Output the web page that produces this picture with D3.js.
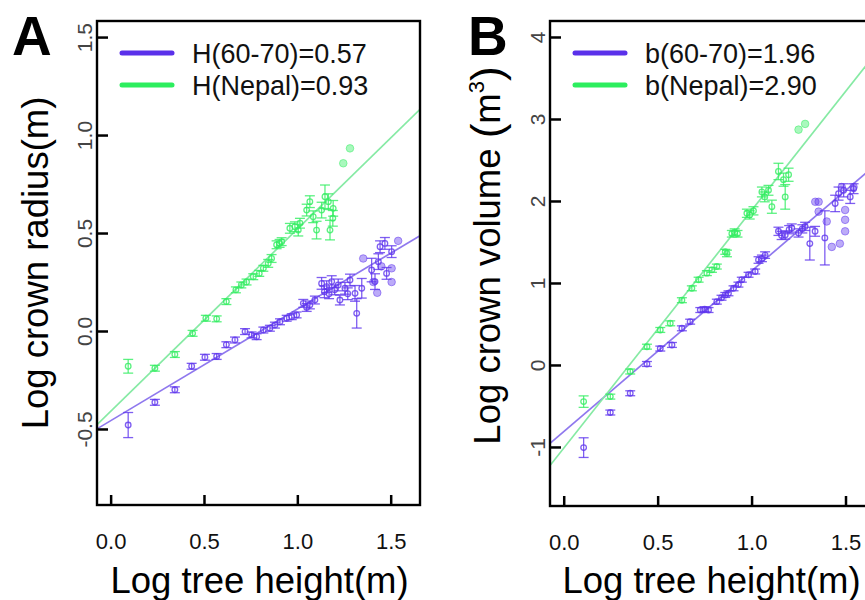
<!DOCTYPE html>
<html><head><meta charset="utf-8">
<script src="https://cdn.jsdelivr.net/npm/d3@7"></script>
<style>body{margin:0;background:#fff}svg{display:block}text{font-family:"Liberation Sans",Arial,sans-serif}</style>
</head><body><svg id="c" width="865" height="600"></svg>
<script>
// ---------- DATA ----------
const xTicks = [0, 0.5, 1.0, 1.5];
const xTickLabels = ["0.0", "0.5", "1.0", "1.5"];
const yTicksA = [-0.5, 0, 0.5, 1.0, 1.5];
const yTickLabelsA = ["-0.5", "0.0", "0.5", "1.0", "1.5"];
const yTicksB = [-1, 0, 1, 2, 3, 4];
const yTickLabelsB = ["-1", "0", "1", "2", "3", "4"];
const legendA = ["H(60-70)=0.57", "H(Nepal)=0.93"];
const legendB = ["b(60-70)=1.96", "b(Nepal)=2.90"];
const fitOldA = [-0.458, 0.57];   // intercept, slope
const fitNepalA = [-0.41, 0.93];
const fitOldB = [-0.813, 1.96];
const fitNepalB = [-1.015, 2.90];

// Panel A — Nepal (binned means, x, y, sd)
const nepalAX = [0.094,0.237,0.344,0.439,0.51,0.568,0.62,0.671,0.70,0.728,0.764,0.796,0.818,0.844,0.862,0.889,0.905,0.916,0.96,0.987,1.005,1.014,1.05,1.067,1.085,1.103,1.13,1.148,1.166,1.175,1.19,1.192];
const nepalAY = [-0.18,-0.19,-0.12,-0.012,0.065,0.062,0.15,0.21,0.235,0.25,0.277,0.294,0.32,0.345,0.37,0.44,0.447,0.456,0.524,0.532,0.515,0.55,0.617,0.66,0.583,0.515,0.617,0.685,0.66,0.515,0.575,0.626];
const nepalAE = [0.035,0.015,0.015,0.015,0.015,0.015,0.015,0.015,0.015,0.015,0.015,0.015,0.015,0.02,0.02,0.02,0.02,0.02,0.025,0.025,0.03,0.025,0.03,0.03,0.03,0.045,0.04,0.06,0.04,0.05,0.04,0.04];
const nepalASingleX = [1.246, 1.282];
const nepalASingleY = [0.856, 0.932];
// Panel A — 60-70
const oldAX = [0.094,0.237,0.344,0.434,0.505,0.568,0.62,0.666,0.72,0.755,0.782,0.818,0.853,0.88,0.907,0.943,0.97,0.996,1.032,1.05,1.067,1.094,1.13,1.145,1.157,1.17,1.184,1.2,1.219,1.228,1.255,1.27,1.282,1.309,1.318,1.345,1.398,1.416,1.434,1.443,1.469,1.478,1.505];
const oldAY = [-0.48,-0.364,-0.30,-0.18,-0.134,-0.13,-0.07,-0.046,-0.003,-0.02,-0.029,0.005,0.014,0.03,0.047,0.065,0.073,0.082,0.141,0.12,0.133,0.158,0.243,0.20,0.226,0.19,0.252,0.21,0.235,0.158,0.218,0.19,0.26,0.192,0.09,0.218,0.311,0.252,0.354,0.43,0.447,0.294,0.405];
const oldAE = [0.064,0.015,0.015,0.015,0.015,0.015,0.015,0.015,0.015,0.015,0.015,0.015,0.015,0.015,0.015,0.015,0.015,0.015,0.02,0.02,0.02,0.02,0.03,0.03,0.03,0.025,0.03,0.025,0.03,0.025,0.03,0.03,0.03,0.04,0.075,0.05,0.06,0.04,0.04,0.03,0.03,0.03,0.03];
const oldASingleX = [1.353, 1.407, 1.428, 1.505, 1.505, 1.54, 1.45];
const oldASingleY = [0.37, 0.25, 0.195, 0.25, 0.32, 0.46, 0.33];
// Panel B — Nepal
const nepalBX = [0.106,0.248,0.354,0.443,0.514,0.567,0.629,0.682,0.718,0.762,0.789,0.815,0.86,0.869,0.895,0.91,0.925,0.975,0.99,1.01,1.055,1.07,1.09,1.108,1.143,1.17,1.179,1.197];
const nepalBY = [-0.447,-0.386,-0.08,0.223,0.427,0.508,0.79,0.935,1.04,1.12,1.16,1.2,1.38,1.36,1.6,1.62,1.6,1.85,1.83,1.88,2.11,2.05,2.13,1.93,2.36,2.26,2.05,2.32];
const nepalBE = [0.07,0.03,0.03,0.03,0.03,0.03,0.03,0.03,0.03,0.03,0.03,0.03,0.03,0.04,0.04,0.04,0.04,0.05,0.05,0.05,0.06,0.06,0.06,0.08,0.1,0.08,0.15,0.08];
const nepalBSingleX = [1.25, 1.285];
const nepalBSingleY = [2.87, 2.94];
// Panel B — 60-70
const oldBX = [0.106,0.248,0.354,0.443,0.514,0.576,0.629,0.673,0.727,0.75,0.771,0.815,0.84,0.86,0.877,0.904,0.93,0.948,0.984,1.019,1.037,1.055,1.072,1.143,1.16,1.179,1.2,1.214,1.25,1.27,1.285,1.31,1.338,1.39,1.445,1.463,1.49,1.525,1.543];
const oldBY = [-1.008,-0.58,-0.345,0.012,0.2,0.244,0.447,0.528,0.67,0.68,0.67,0.772,0.82,0.854,0.874,0.935,0.98,1.04,1.1,1.14,1.28,1.3,1.34,1.63,1.58,1.585,1.65,1.67,1.61,1.66,1.69,1.48,1.63,1.55,1.97,2.09,2.13,2.05,2.15];
const oldBE = [0.12,0.03,0.03,0.03,0.03,0.03,0.03,0.03,0.03,0.03,0.03,0.03,0.03,0.03,0.03,0.03,0.03,0.03,0.03,0.03,0.04,0.04,0.04,0.05,0.05,0.05,0.05,0.05,0.05,0.05,0.05,0.2,0.06,0.33,0.1,0.08,0.08,0.08,0.06];
const oldBSingleX = [1.357, 1.357, 1.40, 1.498, 1.498, 1.498, 1.47, 1.427, 1.339, 1.48, 1.543];
const oldBSingleY = [1.99, 1.87, 1.75, 1.89, 1.77, 1.63, 1.48, 1.44, 1.99, 2.17, 2.17];

// ---------- STYLE ----------
const PURPLE = "#5a30ea", GREEN = "#2cee5e";
const PURPLE_PT = "#5f36ee", GREEN_PT = "#33ee62";
const PURPLE_FIT = "#8f78ee", GREEN_FIT = "#86eaa4";
const FONT = '"Liberation Sans",Arial,sans-serif';

const svg = d3.select("#c");

function drawPanel(o) {
  const g = svg.append("g");
  const x = d3.scaleLinear().domain([-0.073, 1.657]).range([o.left, o.right]);
  const y = d3.scaleLinear().domain(o.yDomain).range([o.bottom, o.top]);

  const clipId = "clip" + o.letter;
  svg.append("clipPath").attr("id", clipId).append("rect")
    .attr("x", o.left).attr("y", o.top).attr("width", o.right - o.left).attr("height", o.bottom - o.top);
  const plot = g.append("g").attr("clip-path", `url(#${clipId})`);

  // fit lines
  [[o.fitOld, PURPLE_FIT], [o.fitNepal, GREEN_FIT]].forEach(([f, col]) => {
    const xs = x.domain();
    plot.append("line")
      .attr("x1", x(xs[0])).attr("y1", y(f[0] + f[1] * xs[0]))
      .attr("x2", x(xs[1])).attr("y2", y(f[0] + f[1] * xs[1]))
      .attr("stroke", col).attr("stroke-width", 1.7);
  });

  function series(X, Y, E, SX, SY, col) {
    const d = X.map((v, i) => ({x: v, y: Y[i], e: E[i]}));
    const s = SX.map((v, i) => ({x: v, y: SY[i]}));
    plot.selectAll(null).data(s).enter().append("circle")
      .attr("cx", p => x(p.x)).attr("cy", p => y(p.y)).attr("r", 3.8)
      .attr("fill", col).attr("fill-opacity", 0.42).attr("stroke", col).attr("stroke-opacity", 0.5);
    const eg = plot.selectAll(null).data(d).enter().append("g")
      .attr("stroke", col).attr("stroke-opacity", 0.8).attr("fill", "none").attr("stroke-width", 1.3);
    eg.append("line").attr("x1", p => x(p.x)).attr("x2", p => x(p.x))
      .attr("y1", p => y(p.y - p.e)).attr("y2", p => y(p.y + p.e));
    eg.append("line").attr("x1", p => x(p.x) - 5).attr("x2", p => x(p.x) + 5)
      .attr("y1", p => y(p.y - p.e)).attr("y2", p => y(p.y - p.e));
    eg.append("line").attr("x1", p => x(p.x) - 5).attr("x2", p => x(p.x) + 5)
      .attr("y1", p => y(p.y + p.e)).attr("y2", p => y(p.y + p.e));
    eg.append("circle").attr("cx", p => x(p.x)).attr("cy", p => y(p.y)).attr("r", 2.8);
  }
  series(o.nepalX, o.nepalY, o.nepalE, o.nepalSX, o.nepalSY, GREEN_PT);
  series(o.oldX, o.oldY, o.oldE, o.oldSX, o.oldSY, PURPLE_PT);

  // axes
  const ax = g.append("g").attr("transform", `translate(0,${o.bottom})`)
    .call(d3.axisBottom(x).tickValues(xTicks).tickFormat((d, i) => xTickLabels[i]).tickSize(-10).tickPadding(28));
  ax.select(".domain").remove();
  ax.selectAll(".tick line").attr("stroke", "#000").attr("stroke-width", 2.5);
  ax.selectAll("text").attr("font-size", 22).attr("font-family", FONT).attr("fill", "#111");

  const ay = g.append("g").attr("transform", `translate(${o.left},0)`)
    .call(d3.axisLeft(y).tickValues(o.yTicks).tickFormat((d, i) => o.yTickLabels[i]).tickSize(-11));
  ay.select(".domain").remove();
  ay.selectAll(".tick line").attr("stroke", "#000").attr("stroke-width", 2.5);
  ay.selectAll("text").attr("x", null).attr("dy", null).attr("font-size", 21).attr("font-family", FONT)
    .attr("fill", "#444").attr("text-anchor", "middle").attr("transform", "translate(-5,0) rotate(-90)");

  // box
  g.append("rect").attr("x", o.left).attr("y", o.top).attr("width", o.right - o.left).attr("height", o.bottom - o.top)
    .attr("fill", "none").attr("stroke", "#000").attr("stroke-width", 2.4);

  // titles
  g.append("text").attr("x", (o.left + o.right) / 2 + o.xTitleShift).attr("y", 593).attr("text-anchor", "middle")
    .attr("font-size", 36.5).attr("fill", "#000").text("Log tree height(m)");
  const yt = g.append("text").attr("transform", `translate(${o.yTitleX},${(o.top + o.bottom) / 2 + o.yTitleShift}) rotate(-90)`)
    .attr("text-anchor", "middle").attr("font-size", 36.5).attr("fill", "#000");
  o.yTitle(yt);

  g.append("text").attr("x", o.letterX).attr("y", 55).attr("font-size", 55).attr("font-weight", "bold")
    .attr("fill", "#000").text(o.letter);

  // legend
  const lg = g.append("g");
  [[o.legend[0], PURPLE], [o.legend[1], GREEN]].forEach(([t, col], i) => {
    const ly = 53 + i * 32;
    lg.append("line").attr("x1", o.left + o.legX1).attr("x2", o.left + o.legX2).attr("y1", ly).attr("y2", ly)
      .attr("stroke", col).attr("stroke-width", 5).attr("stroke-linecap", "round");
    lg.append("text").attr("x", o.left + o.legText).attr("y", ly + 9.5).attr("font-size", 27).attr("fill", "#111").text(t);
  });
}

drawPanel({
  letter: "A", letterX: 12, left: 97, right: 420, top: 21, bottom: 505, yDomain: [-0.888, 1.582],
  yTicks: yTicksA, yTickLabels: yTickLabelsA, fitOld: fitOldA, fitNepal: fitNepalA,
  nepalX: nepalAX, nepalY: nepalAY, nepalE: nepalAE, nepalSX: nepalASingleX, nepalSY: nepalASingleY,
  oldX: oldAX, oldY: oldAY, oldE: oldAE, oldSX: oldASingleX, oldSY: oldASingleY,
  legend: legendA, legX1: 25, legX2: 75, legText: 95, xTitleShift: 1, yTitleX: 48, yTitleShift: 0,
  yTitle: t => t.text("Log crown radius(m)")
});
drawPanel({
  letter: "B", letterX: 468, left: 550, right: 875, top: 21, bottom: 506, yDomain: [-1.72, 4.195],
  yTicks: yTicksB, yTickLabels: yTickLabelsB, fitOld: fitOldB, fitNepal: fitNepalB,
  nepalX: nepalBX, nepalY: nepalBY, nepalE: nepalBE, nepalSX: nepalBSingleX, nepalSY: nepalBSingleY,
  oldX: oldBX, oldY: oldBY, oldE: oldBE, oldSX: oldBSingleX, oldSY: oldBSingleY,
  legend: legendB, legX1: 25, legX2: 75, legText: 95, xTitleShift: -1, yTitleX: 500, yTitleShift: -8,
  yTitle: t => {
    t.append("tspan").text("Log crown volume ");
    t.append("tspan").attr("font-size", 44).attr("dy", 2).text("(");
    t.append("tspan").attr("dy", -2).text("m");
    t.append("tspan").attr("font-size", 22).attr("dy", -16).text("3");
    t.append("tspan").attr("font-size", 44).attr("dy", 18).text(")");
  }
});
</script></body></html>
